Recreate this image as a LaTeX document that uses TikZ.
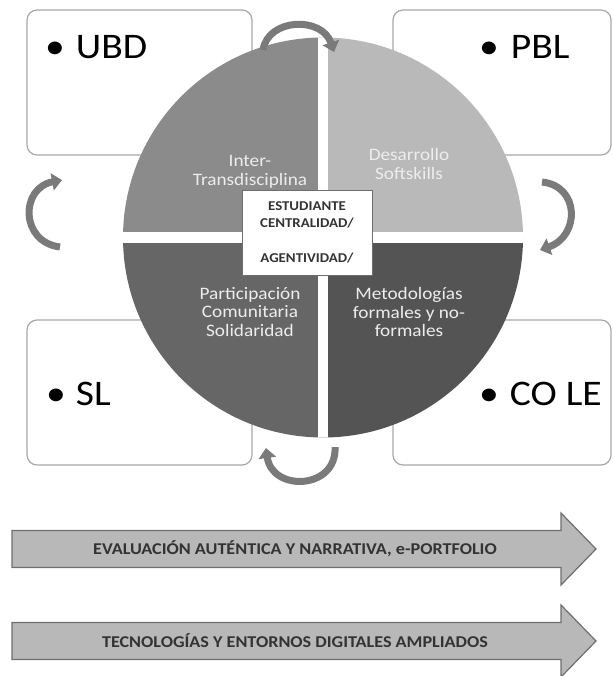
\documentclass[tikz,border=0pt]{standalone}
\usepackage{fontspec}
\setmainfont{Carlito}[FakeStretch=1.1]
\usetikzlibrary{arrows.meta}
\definecolor{qtl}{HTML}{8B8B8B}
\definecolor{qtr}{HTML}{B9B9B9}
\definecolor{qbl}{HTML}{666666}
\definecolor{qbr}{HTML}{545454}
\definecolor{qtext}{HTML}{EDEDED}
\definecolor{boxline}{HTML}{A8A8A8}
\definecolor{arrowgray}{HTML}{7A7A7A}
\definecolor{bandfill}{HTML}{B8B8B8}
\definecolor{bandline}{HTML}{6E6E6E}
\definecolor{darktext}{HTML}{333333}
\tikzset{itembox/.style={draw=boxline,fill=white,line width=1.2pt,rounded corners=10pt,minimum height=145pt},
itemtext/.style={font=\fontsize{36}{40}\selectfont,text=black,inner sep=0pt,anchor=base west},
quadtext/.style={font=\fontsize{17.5}{18.5}\selectfont,text=qtext,align=center,inner sep=0pt},
centrebox/.style={draw=bandline,fill=white,line width=0.8pt,minimum width=130pt,minimum height=85pt,align=center,font=\bfseries\fontsize{13.5}{17.5}\selectfont,text=darktext},
turnarrow/.style={draw=arrowgray,line width=7pt,-{Triangle[length=10pt,width=17pt]}},
band/.style={draw=bandline,fill=bandfill,line width=1.2pt},
bandtext/.style={font=\bfseries\fontsize{16.5}{18}\selectfont,text=darktext,inner sep=0pt}}

\begin{document}
\begin{tikzpicture}[x=1pt,y=-1pt]
\useasboundingbox (0,0) rectangle (612,676);
% corner boxes
\node[itembox,minimum width=225pt](ubd) at (139.5,82.5) {};
\node[itembox,minimum width=218pt](pbl) at (502,82.5) {};
\node[itembox,minimum width=225pt](sl) at (139.5,392.5) {};
\node[itembox,minimum width=218pt](cole) at (502,392.5) {};
\node[itemtext](ubdt) at (45,59) {\textbullet\hspace{11pt}UBD};
\node[itemtext](pblt) at (479,59) {\textbullet\hspace{12pt}PBL};
\node[itemtext](slt) at (46,405) {\textbullet\hspace{10pt}SL};
\node[itemtext](colet) at (479,405) {\textbullet\hspace{11pt}CO LE};
% disc
\coordinate (c) at (323,237.5);
\begin{scope}
\clip (c) circle (200);
\fill[qtl] (c) rectangle (120,35);
\fill[qtr] (c) rectangle (526,35);
\fill[qbl] (c) rectangle (120,440);
\fill[qbr] (c) rectangle (526,440);
\draw[white,line width=10pt] (323,30) -- (323,445);
\draw[white,line width=11pt] (115,237.5) -- (530,237.5);
\end{scope}
\node[quadtext](inter) at (250,172) {Inter-\\Transdisciplina};
\node[quadtext](soft) at (409,164) {Desarrollo\\Softskills};
\node[quadtext](part) at (250,312) {Participación\\Comunitaria\\Solidaridad};
\node[quadtext](meto) at (409,312) {Metodologías\\formales y no-\\formales};
\node[centrebox](est) at (307,232.5) {ESTUDIANTE\\CENTRALIDAD/\\[17.5pt]AGENTIVIDAD/};
% turning arrows
\coordinate (a1) at (263,50); \coordinate (a2) at (334,52);
\coordinate (b1) at (542,182); \coordinate (b2) at (540,250);
\coordinate (d1) at (335,447); \coordinate (d2) at (266,448);
\coordinate (e1) at (60,247); \coordinate (e2) at (62,180);
\draw[turnarrow] (a1) .. controls (268,18) and (322,16) .. (a2);
\draw[turnarrow] (b1) .. controls (580,186) and (580,236) .. (b2);
\draw[turnarrow] (d1) .. controls (337,490) and (272,492) .. (d2);
\draw[turnarrow] (e1) .. controls (20,242) and (20,188) .. (e2);
% bands
\foreach \y/\txt [count=\i] in {549/{EVALUACIÓN AUTÉNTICA Y NARRATIVA, e-PORTFOLIO},641/{TECNOLOGÍAS Y ENTORNOS DIGITALES AMPLIADOS}}{
\draw[band] (12,\y-18.5) -- (561,\y-18.5) -- (561,\y-36) -- (596,\y) -- (561,\y+36) -- (561,\y+18.5) -- (12,\y+18.5) -- cycle;
\node[bandtext](band\i) at (295,\y) {\txt};
}
\end{tikzpicture}
\end{document}
